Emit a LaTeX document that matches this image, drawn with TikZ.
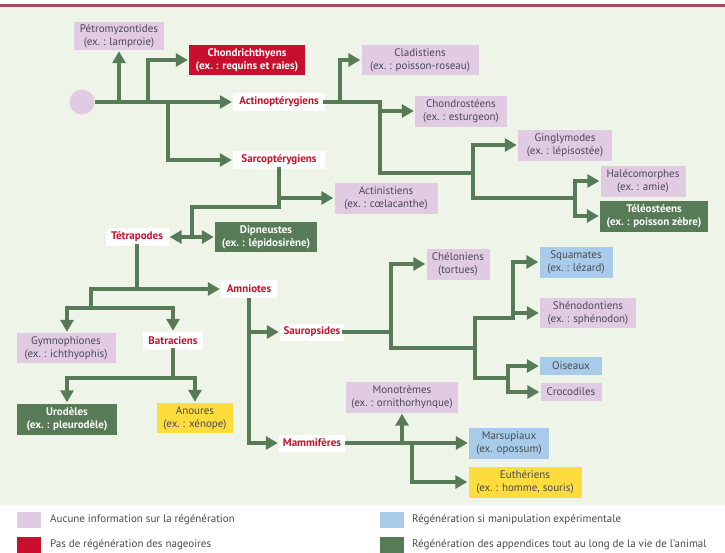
\documentclass[tikz,border=0pt]{standalone}
\usepackage{fontspec}
\setmainfont{PT Sans}
\usetikzlibrary{arrows.meta}
\definecolor{bg}{HTML}{EEF5E8}
\definecolor{lav}{HTML}{E0CBE2}
\definecolor{crim}{HTML}{C8102E}
\definecolor{dgreen}{HTML}{587B57}
\definecolor{lblue}{HTML}{A8CBE9}
\definecolor{yel}{HTML}{FDDC3C}
\definecolor{txt}{HTML}{4A4A55}
\definecolor{topline}{HTML}{A64A5C}
\begin{document}
\begin{tikzpicture}[x=1pt,y=-1pt,
  every node/.style={font=\fontsize{11}{13}\selectfont, align=center, inner sep=0pt},
  bfont/.style={font=\fontsize{11}{13}\selectfont\bfseries},
  lavbox/.style={fill=lav, text=txt},
  bluebox/.style={fill=lblue, text=txt},
  yelbox/.style={fill=yel, text=txt},
  redbox/.style={fill=crim, text=white, bfont},
  greenbox/.style={fill=dgreen, text=white, bfont},
  lbl/.style={fill=white, text=crim, bfont, minimum height=18pt},
  line/.style={draw=dgreen, line width=3.8pt, line cap=rect},
  arr/.style={draw=dgreen, line width=3.8pt, -{Triangle[length=12pt,width=13pt]}, shorten >=1pt},
  legtext/.style={anchor=west, text=txt}
]
\useasboundingbox (0,0) rectangle (725,552);
\fill[white] (0,0) rectangle (725,552);
\fill[bg] (0,7) rectangle (725,505);
\draw[topline, line width=3pt] (0,5) -- (725,5);

% nodes
\node[circle, fill=lav, minimum size=25pt] (root) at (82,102) {};
\node[lavbox, minimum width=90pt, minimum height=28pt] (petro) at (119,36) {Pétromyzontides\\(ex.~: lamproie)};
\node[redbox, minimum width=116pt, minimum height=30pt] (chondri) at (247,60) {Chondrichthyens\\(ex.~: requins et raies)};
\node[lbl, minimum width=92pt] (actino) at (279,102) {Actinoptérygiens};
\node[lbl, minimum width=92pt] (sarco) at (279,160) {Sarcoptérygiens};
\node[lavbox, minimum width=117pt, minimum height=30pt] (clad) at (420,60) {Cladistiens\\(ex.~: poisson-roseau)};
\node[lavbox, minimum width=92pt, minimum height=31pt] (chondro) at (461,111) {Chondrostéens\\(ex.~: esturgeon)};
\node[lavbox, minimum width=94pt, minimum height=31pt] (gingly) at (565,145) {Ginglymodes\\(ex.~: lépisostée)};
\node[lavbox, minimum width=85pt, minimum height=31pt] (halec) at (643,181) {Halécomorphes\\(ex.~: amie)};
\node[greenbox, minimum width=108pt, minimum height=31pt] (teleo) at (654,216) {Téléostéens\\(ex.~: poisson zèbre)};
\node[lavbox, minimum width=103pt, minimum height=31pt] (actin) at (386,198) {Actinistiens\\(ex.~: cœlacanthe)};
\node[lbl, minimum width=63pt] (tetra) at (137,237) {Tétrapodes};
\node[greenbox, minimum width=102pt, minimum height=30pt] (dipn) at (266,237) {Dipneustes\\(ex.~: lépidosirène)};
\node[lbl, minimum width=56pt] (amnio) at (249,289) {Amniotes};
\node[lavbox, minimum width=99pt, minimum height=30pt] (gymno) at (66,348) {Gymnophiones\\(ex.~: ichthyophis)};
\node[lbl, minimum width=60pt] (batra) at (173,341) {Batraciens};
\node[greenbox, minimum width=100pt, minimum height=31pt] (urod) at (67,419) {Urodèles\\(ex.~: pleurodèle)};
\node[yelbox, minimum width=76pt, minimum height=30pt] (anou) at (195,418) {Anoures\\(ex.~: xénope)};
\node[lbl, minimum width=64pt, minimum height=17pt] (sauro) at (312,332) {Sauropsides};
\node[lbl, minimum width=66pt, minimum height=17pt] (mamm) at (312,443) {Mammifères};
\node[lavbox, minimum width=63pt, minimum height=31pt] (chelo) at (458,264) {Chéloniens\\(tortues)};
\node[bluebox, minimum width=73pt, minimum height=31pt] (squam) at (576,262) {Squamates\\(ex.~: lézard)};
\node[lavbox, minimum width=96pt, minimum height=30pt] (sheno) at (588,313) {Shénodontiens\\(ex.~: sphénodon)};
\node[bluebox, minimum width=62pt, minimum height=18pt] (ois) at (571,366) {Oiseaux};
\node[lavbox, minimum width=61pt, minimum height=18pt] (croco) at (571,392) {Crocodiles};
\node[lavbox, minimum width=112pt, minimum height=31pt] (mono) at (402,397) {Monotrèmes\\(ex.~: ornithorhynque)};
\node[bluebox, minimum width=80pt, minimum height=31pt] (marsu) at (509,443) {Marsupiaux\\(ex. opossum)};
\node[yelbox, minimum width=113pt, minimum height=31pt] (euth) at (525,482) {Euthériens\\(ex.~: homme, souris)};

% connectors: root
\coordinate (j1) at (148,102);
\coordinate (j2) at (168,102);
\draw[arr] (root.east) -- (actino.west);
\draw[arr] (petro.south |- root.east) -- (petro.south);
\draw[arr] (j1) |- (chondri.west);
\draw[arr] (j2) |- (sarco.west);

% actinopterygians
\coordinate (j3) at (340,102);
\coordinate (j4) at (380,102);
\coordinate (j5) at (380,173);
\coordinate (j6) at (473,173);
\coordinate (j7) at (473,198);
\coordinate (j8) at (575,198);
\draw[line] (actino.east) -- (j4) -- (j5) -- (j6);
\draw[arr] (j3) |- (clad.west);
\draw[arr] (j4 |- chondro.west) -- (chondro.west);
\draw[arr] (j7) |- (gingly.west);
\draw[line] (j7) -- (j8);
\draw[arr] (j8) |- (halec.west);
\draw[arr] (j8) |- (teleo.west);

% sarcopterygians
\coordinate (k1) at (279,207);
\coordinate (k2) at (192,237);
\draw[line] (sarco.south) -- (k1) -| (k2);
\draw[arr] (sarco.south |- actin.west) -- (actin.west);
\draw[arr] (k2) -- (tetra.east);
\draw[arr] (k2) -- (dipn.west);

% tetrapods
\coordinate (k4) at (91,289);
\coordinate (k5) at (91,308);
\coordinate (k5a) at (67,308);
\coordinate (k5b) at (173,308);
\draw[line] (tetra.south) -- (tetra.south |- k4);
\draw[arr] (k4) -- (amnio.west);
\draw[line] (k4) -- (k5);
\draw[line] (k5a) -- (k5b);
\draw[arr] (k5a) -- (k5a |- gymno.north);
\draw[arr] (k5b) -- (batra.north);

% batraciens
\coordinate (k6a) at (67,378);
\coordinate (k6b) at (195,378);
\draw[line] (batra.south) -- (batra.south |- k6a);
\draw[line] (k6a) -- (k6b);
\draw[arr] (k6a) -- (urod.north);
\draw[arr] (k6b) -- (anou.north);

% amniotes
\draw[arr] (amnio.south) |- (mamm.west);
\draw[arr] (amnio.south |- sauro.west) -- (sauro.west);

% sauropsides
\coordinate (s1) at (391,332);
\coordinate (s2) at (475,348);
\coordinate (s3) at (475,318);
\coordinate (s4) at (475,378);
\coordinate (s5) at (513,318);
\coordinate (s6) at (508,378);
\draw[line] (sauro.east) -- (s1);
\draw[arr] (s2 -| s1) |- (chelo.west);
\draw[line] (s2 -| s1) -- (s2);
\draw[line] (s3) -- (s4);
\draw[line] (s3) -- (s5);
\draw[arr] (s5) |- (squam.west);
\draw[arr] (s5 |- sheno.west) -- (sheno.west);
\draw[line] (s4) -- (s6);
\draw[arr] (s6) |- (ois.west);
\draw[arr] (s6) |- (croco.west);

% mammiferes
\coordinate (m1) at (412,443);
\draw[arr] (mamm.east) -- (marsu.west);
\draw[arr] (mamm.east -| mono.south) -- (mono.south);
\draw[arr] (m1) |- (euth.west);

% legend
\node[fill=lav, minimum width=24pt, minimum height=16pt] (sw1) at (29,520) {};
\node[legtext] (lg1) at (50,520) {Aucune information sur la régénération};
\node[fill=crim, minimum width=24pt, minimum height=16pt] (sw2) at (29,545) {};
\node[legtext] (lg2) at (50,545) {Pas de régénération des nageoires};
\node[fill=lblue, minimum width=24pt, minimum height=16pt] (sw3) at (392,520) {};
\node[legtext] (lg3) at (412,520) {Régénération si manipulation expérimentale};
\node[fill=dgreen, minimum width=24pt, minimum height=16pt] (sw4) at (392,545) {};
\node[legtext] (lg4) at (412,545) {Régénération des appendices tout au long de la vie de l’animal};
\end{tikzpicture}
\end{document}
